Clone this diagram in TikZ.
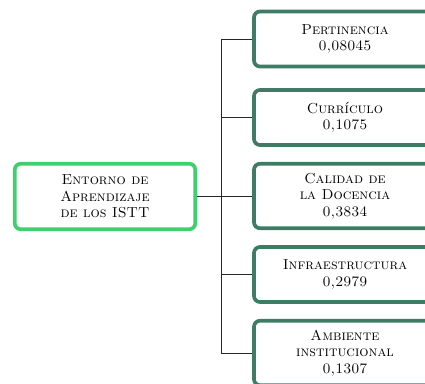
\documentclass[tikz,border=0pt]{standalone}
\usepackage{fontspec}
\usepackage{tikz}
\usetikzlibrary{positioning, shadows}

\definecolor{boxteal}{RGB}{62,124,100}
\definecolor{rootgreen}{RGB}{62,208,108}

\begin{document}
\begin{tikzpicture}[
  x=1pt, y=-1pt,
  font=\fontsize{14.5}{16.3}\selectfont\scshape,
  crit/.style={rectangle, rounded corners=6pt, draw=boxteal, line width=3.7pt,
    fill=white, minimum width=182pt, minimum height=55pt, align=center,
    drop shadow={shadow xshift=1pt, shadow yshift=-1pt, opacity=0.12}},
  tall/.style={minimum height=64.5pt},
  rootbox/.style={crit, draw=rootgreen, minimum width=180.5pt, minimum height=65.5pt},
  link/.style={line width=0.7pt, black!85}
]
  \clip (0,0) rectangle (425,383);

  \node[rootbox] (root) at (105,196.5) {Entorno de\\Aprendizaje\\de los ISTT};

  \node[crit] (pert) at (345,39) {Pertinencia\\0,08045};
  \node[crit] (curr) at (345,117.5) {Currículo\\0,1075};
  \node[crit, tall] (cal) at (345,196) {Calidad de\\la Docencia\\0,3834};
  \node[crit] (infra) at (345,274.5) {Infraestructura\\0,2979};
  \node[crit, tall] (amb) at (345,353) {Ambiente\\institucional\\0,1307};

  \coordinate (j) at (221.7,196.5);

  \draw[link] (root.east) -- (j);
  \draw[link] (pert.west) -| (j);
  \draw[link] (curr.west) -| (j);
  \draw[link] (cal.west) -| (j);
  \draw[link] (infra.west) -| (j);
  \draw[link] (amb.west) -| (j);
\end{tikzpicture}
\end{document}
